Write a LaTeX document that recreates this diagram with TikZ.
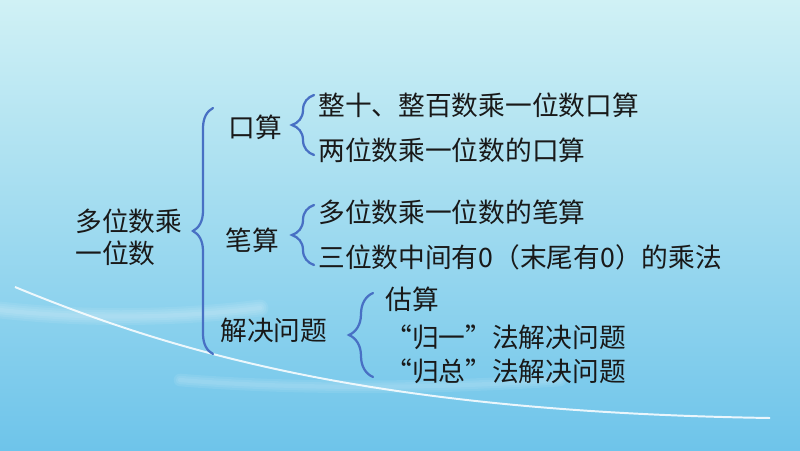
\documentclass[tikz,border=0pt]{standalone}
\usepackage{fontspec}
\newfontfamily\cjk{Noto Sans CJK SC}
\usetikzlibrary{calc, decorations.pathreplacing}

\definecolor{bracecol}{RGB}{72,112,196}
\definecolor{bgtop}{RGB}{208,241,245}
\definecolor{bgbot}{RGB}{110,196,234}

\begin{document}
\begin{tikzpicture}[
        x=0.025cm, y=0.025cm,
        font=\cjk\fontsize{19}{23}\selectfont,
        item/.style={anchor=west, inner sep=0pt, text=black!90},
        bracefig/.style={draw=bracecol, line width=1.6pt, line cap=round, decorate,
            decoration={brace, amplitude=#1}},
        bracefig/.default=0.5cm,
        glow/.style={white, line cap=round, opacity=0.08}
    ]

    % Background
    \shade[top color=bgtop, bottom color=bgbot] (0,0) rectangle (800,450);
    \useasboundingbox (0,0) rectangle (800,450);
    \foreach \w in {3,6,9,12}
        \draw[glow, line width=\w pt] (0,140) .. controls (90,130) and (180,132) .. (260,142);
    \foreach \w in {3,6,9}
        \draw[glow, line width=\w pt] (180,70) .. controls (300,60) and (450,62) .. (560,70);
    \draw[white, line width=1.4pt, opacity=0.85] (15,163) .. controls (180,95) and (380,38) .. (770,32);

    % Root
    \node[item, align=left] (root) at (75,213) {多位数乘\\一位数};

    % First level
    \node[item] (kousuan) at (228,323) {口算};
    \node[item] (bisuan) at (225,210) {笔算};
    \node[item] (jiejue) at (220,120) {解决问题};

    % Second level
    \node[item] (zhengshi) at (318,345) {整十、整百数乘一位数口算};
    \node[item] (liangwei) at (318,300) {两位数乘一位数的口算};
    \node[item] (duowei) at (318,238) {多位数乘一位数的笔算};
    \node[item] (sanwei) at (318,193) {三位数中间有0（末尾有0）的乘法};
    \node[item] (gusuan) at (385,151) {估算};
    \node[item] (guiyi) at (385,113) {“归一”法解决问题};
    \node[item] (guizong) at (385,79) {“归总”法解决问题};

    % Braces
    \draw[bracefig] ($(jiejue.west)+(-7,-24)$) -- ($(kousuan.west -| jiejue.west)+(-7,19)$);
    \draw[bracefig=0.55cm] ($(liangwei.west)+(-4,-5)$) -- ($(zhengshi.west)+(-4,10)$);
    \draw[bracefig=0.55cm] ($(sanwei.west)+(-4,-8)$) -- ($(duowei.west)+(-4,7)$);
    \draw[bracefig=0.6cm] ($(guizong.west)+(-12,-6)$) -- ($(gusuan.west)+(-12,6)$);

\end{tikzpicture}
\end{document}
